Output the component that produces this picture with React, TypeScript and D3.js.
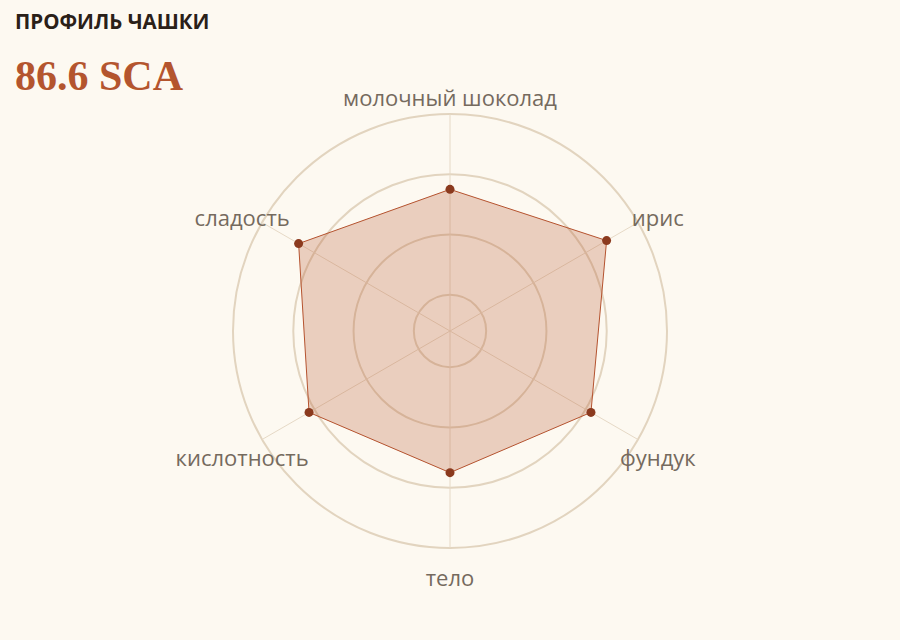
import * as d3 from 'd3';
import { useEffect, useRef } from 'react';

// Cup profile axes and scores (SCA-style)
const AXES = ['молочный шоколад', 'ирис', 'фундук', 'тело', 'кислотность', 'сладость'];
const SCORES = [8.75, 9.4, 9.1, 8.75, 9.1, 9.3];
const RING_VALUES = [7, 8, 9, 10];

const TITLE = 'ПРОФИЛЬ ЧАШКИ';
const TOTAL = '86.6 SCA';

const WIDTH = 900;
const HEIGHT = 640;

export default function App() {
  const svgRef = useRef<SVGSVGElement>(null);

  useEffect(() => {
    if (!svgRef.current) return;
    const svg = d3.select(svgRef.current);
    svg.selectAll('*').remove();

    const cx = 450;
    const cy = 331;
    const radius = 217;

    const r = d3.scaleLinear().domain([6.4, 10]).range([0, radius]);
    const angle = d3
      .scaleLinear()
      .domain([0, AXES.length])
      .range([0, Math.PI * 2]);

    // point at radius rad on axis i (0 = straight up, clockwise)
    const pt = (i: number, rad: number): [number, number] => {
      const a = angle(i) - Math.PI / 2;
      return [Math.cos(a) * rad, Math.sin(a) * rad];
    };

    svg
      .append('rect')
      .attr('width', WIDTH)
      .attr('height', HEIGHT)
      .attr('fill', '#fdf9f1');

    svg
      .append('text')
      .attr('x', 15)
      .attr('y', 29)
      .attr('font-family', '"Open Sans", sans-serif')
      .attr('font-weight', 700)
      .attr('font-size', 20.5)
      .attr('fill', '#2a2018')
      .text(TITLE);

    svg
      .append('text')
      .attr('x', 15)
      .attr('y', 90)
      .attr('font-family', '"Liberation Serif", serif')
      .attr('font-weight', 700)
      .attr('font-size', 42)
      .attr('fill', '#b4552e')
      .text(TOTAL);

    const g = svg.append('g').attr('transform', `translate(${cx},${cy})`);

    // grid rings
    g.selectAll('circle.ring')
      .data(RING_VALUES)
      .enter()
      .append('circle')
      .attr('class', 'ring')
      .attr('r', (d) => r(d))
      .attr('fill', 'none')
      .attr('stroke', '#e2d4bf')
      .attr('stroke-width', 2);

    // spokes
    g.selectAll('line.spoke')
      .data(AXES)
      .enter()
      .append('line')
      .attr('class', 'spoke')
      .attr('x1', 0)
      .attr('y1', 0)
      .attr('x2', (_d, i) => pt(i, radius)[0])
      .attr('y2', (_d, i) => pt(i, radius)[1])
      .attr('stroke', '#e6d9c6')
      .attr('stroke-width', 1);

    // score polygon
    const line = d3
      .lineRadial<number>()
      .angle((_d, i) => angle(i))
      .radius((d) => r(d))
      .curve(d3.curveLinearClosed);

    g.append('path')
      .attr('d', line(SCORES))
      .attr('fill', 'rgb(180,80,40)')
      .attr('fill-opacity', 0.25)
      .attr('stroke', '#b5532f')
      .attr('stroke-width', 1);

    g.selectAll('circle.dot')
      .data(SCORES)
      .enter()
      .append('circle')
      .attr('class', 'dot')
      .attr('cx', (d, i) => pt(i, r(d))[0])
      .attr('cy', (d, i) => pt(i, r(d))[1])
      .attr('r', 4.5)
      .attr('fill', '#8b3a1e');

    // axis labels
    g.selectAll('text.label')
      .data(AXES)
      .enter()
      .append('text')
      .attr('class', 'label')
      .attr('x', (_d, i) => pt(i, 240)[0])
      .attr('y', (_d, i) => pt(i, 240)[1])
      .attr('dy', 15)
      .attr('text-anchor', 'middle')
      .attr('font-family', '"Open Sans", sans-serif')
      .attr('font-size', 22)
      .attr('fill', '#756a5e')
      .text((d) => d);
  }, []);

  return (
    <div style={{ position: 'absolute', left: 0, top: 0, width: WIDTH, height: HEIGHT }}>
      <svg ref={svgRef} width={WIDTH} height={HEIGHT} style={{ display: 'block' }} />
    </div>
  );
}
